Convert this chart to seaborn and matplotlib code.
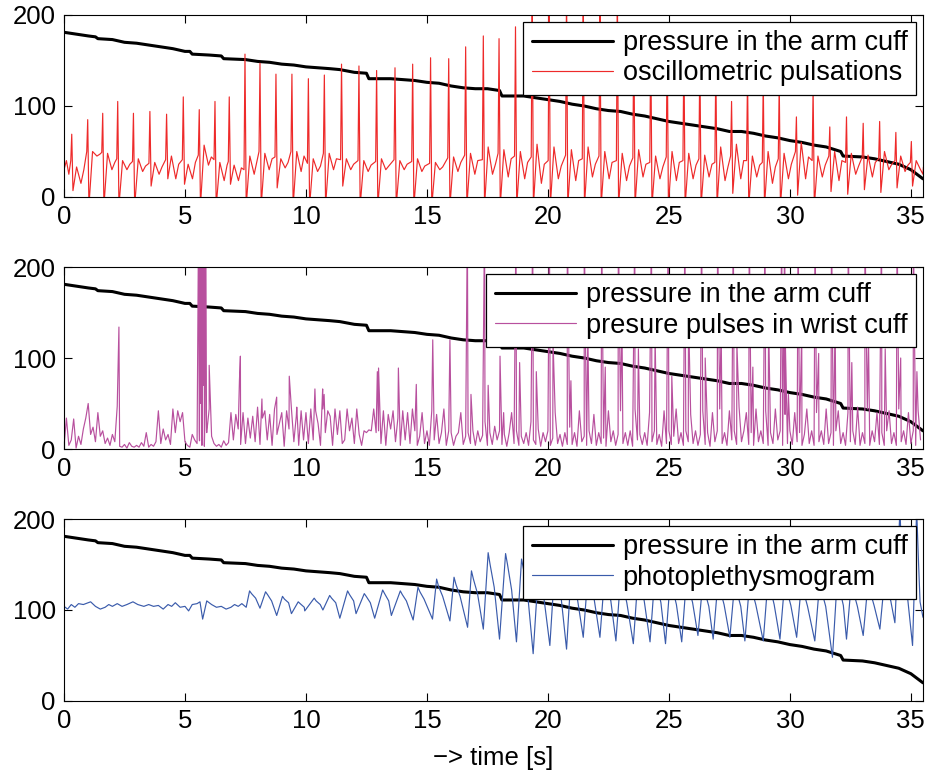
import numpy as np
import pandas as pd
import matplotlib.pyplot as plt
import seaborn as sns

# pressure in the arm cuff (same trace in all three panels)
cuff_t = [0.0, 0.5, 1.0, 1.3, 1.4, 2.0, 2.5, 3.0, 3.5, 4.0, 4.5, 5.0, 5.2, 5.3, 6.0, 6.5, 6.6,
          7.5, 8.0, 8.5, 9.0, 9.5, 10.0, 10.5, 11.0, 11.4, 12.0, 12.5, 12.6, 13.5, 14.0, 14.5,
          15.0, 15.5, 16.0, 16.5, 17.0, 17.5, 18.0, 18.1, 19.0, 19.5, 20.0, 20.5, 21.0, 21.5,
          22.0, 22.5, 23.0, 23.5, 24.0, 24.5, 25.0, 25.5, 26.0, 26.5, 27.0, 27.5, 28.0, 28.5,
          29.0, 29.5, 30.0, 30.5, 31.0, 31.5, 32.1, 32.2, 33.0, 33.5, 34.0, 34.5, 35.0, 35.5]
cuff_p = [181, 179, 177, 176, 174, 173, 170, 169, 167, 165, 163, 160, 160, 157, 156, 155, 152,
          151, 149, 148, 146, 145, 143, 142, 141, 140, 137, 136, 130, 130, 129, 128,
          126, 125, 122, 120, 119, 119, 117, 111, 111, 109, 107, 105, 102, 100,
          97, 95, 94, 91, 89, 86, 83, 81, 79, 77, 75, 72, 72, 70,
          67, 65, 62, 60, 57, 55, 50, 45, 44, 42, 39, 36, 30, 20]

# oscillometric pulsations, one entry per heart beat
osc_t = [0.32, 0.98, 1.60, 2.22, 2.87, 3.55, 4.24, 4.93, 5.59, 6.24, 6.83, 7.48, 8.10,
         8.76, 9.42, 10.10, 10.76, 11.47, 12.19, 12.92, 13.68, 14.41, 15.15, 15.90, 16.60,
         17.33, 17.98, 18.66, 19.35, 20.05, 20.77, 21.46, 22.15, 22.87, 23.55, 24.25, 24.93,
         25.62, 26.28, 26.94, 27.59, 28.25, 28.90, 29.56, 30.27, 30.96, 31.65, 32.34, 33.03,
         33.71, 34.38, 35.02]
osc_peak = [69, 85, 92, 105, 92, 94, 91, 110, 96, 105, 110, 157, 147, 135, 135, 130, 134,
            146, 144, 139, 142, 146, 153, 152, 165, 177, 174, 187, 230, 230, 230, 230, 230,
            230, 185, 180, 172, 165, 158, 148, 105, 135, 130, 126, 88, 120, 77, 88, 81, 83,
            71, 61]
osc_pre = [40, 50, 49, 42, 39, 37, 41, 41, 46, 41, 39, 30, 50, 44, 50, 37, 48, 41, 40, 39,
           41, 39, 37, 43, 46, 41, 48, 45, 44, 40, 46, 42, 45, 40, 43, 38, 44, 40, 42, 38,
           45, 40, 38, 42, 50, 40, 45, 38, 44, 42, 40, 38]
osc_trough = [7, -10, -10, -10, -10, 12, 20, 14, -10, -10, 14, -10, -10, 10, -10, -10, -10,
              12, -10, -10, -10, -10, -10, -10, -10, -10, -10, -10, -10, -10, -10, -10, -10,
              -10, -10, -10, -10, -10, -10, -10, 4, -10, -10, -10, 2, -10, 6, 3, 8, 5, 10, 12]
osc_rebound = [33, 50, 48, 40, 42, 38, 45, 36, 57, 38, 35, 45, 48, 42, 50, 42, 48, 42, 40,
               42, 40, 42, 38, 44, 48, 55, 52, 50, 58, 55, 52, 55, 50, 48, 52, 45, 50, 48,
               46, 55, 58, 45, 50, 48, 60, 45, 50, 48, 46, 50, 45, 40]
osc_mid = [15, 45, 30, 30, 28, 25, 20, 20, 35, 18, 18, 25, 30, 32, 28, 28, 30, 30, 28, 30,
           30, 28, 30, 28, 25, 25, 22, 20, 15, 20, 18, 22, 20, 18, 22, 20, 18, 20, 22, 18,
           20, 22, 15, 20, 20, 22, 18, 25, 22, 30, 28, 30]
osc_bump = [30, 47, 38, 36, 34, 33, 36, 38, 44, 35, 32, 40, 42, 38, 45, 34, 42, 36, 35, 34,
            36, 34, 33, 38, 40, 36, 42, 38, 36, 34, 40, 36, 38, 34, 36, 33, 38, 35, 36, 33,
            40, 35, 33, 36, 44, 35, 40, 34, 38, 36, 35, 33]

# wrist cuff: background noise, 10 samples per second
wrist_noise = [
    [2, 34, 4, 10, 33, 1, 14, 5, 22, 34], [50, 16, 24, 8, 40, 14, 20, 6, 12, 4],
    [16, 8, 47, 3, 2, 5, 1, 7, 3, 2], [4, 2, 7, 3, 18, 2, 5, 3, 8, 42],
    [6, 22, 10, 16, 5, 44, 18, 42, 30, 40], [8, 4, 2, 16, 10, 6, 9, 4, 3, 18],
    [44, 14, 6, 3, 5, 2, 9, 4, 7, 40], [10, 38, 22, 5, 40, 6, 34, 12, 36, 8],
    [46, 5, 34, 42, 10, 38, 4, 44, 16, 28], [40, 3, 42, 22, 44, 8, 36, 4, 42, 10],
    [40, 6, 44, 10, 42, 28, 4, 44, 18, 42], [36, 4, 44, 16, 42, 6, 10, 44, 20, 34],
    [6, 44, 16, 4, 20, 18, 21, 20, 44, 18], [20, 6, 42, 4, 38, 22, 42, 8, 34, 4],
    [42, 10, 40, 6, 44, 20, 4, 14, 40, 6], [20, 4, 42, 10, 38, 6, 18, 44, 4, 20],
    [18, 4, 14, 18, 40, 5, 14, 18, 6, 20], [4, 20, 8, 15, 30, 4, 18, 5, 25, 10],
    [20, 5, 16, 3, 18, 40, 6, 20, 4, 14], [6, 18, 4, 30, 10, 5, 22, 3, 18, 8],
    [20, 4, 12, 40, 6, 16, 3, 18, 5, 24], [5, 18, 3, 42, 8, 14, 4, 20, 6, 38],
    [4, 18, 6, 12, 3, 42, 8, 20, 4, 16], [42, 6, 18, 4, 20, 3, 44, 10, 16, 5],
    [18, 4, 40, 8, 20, 5, 16, 3, 42, 6], [20, 5, 14, 44, 6, 18, 4, 20, 8, 38],
    [6, 20, 4, 16, 42, 5, 18, 3, 40, 8], [20, 44, 6, 18, 4, 42, 10, 20, 5, 46],
    [8, 20, 40, 5, 18, 4, 44, 8, 20, 6], [42, 4, 18, 6, 44, 10, 20, 4, 38, 6],
    [20, 5, 40, 8, 18, 4, 16, 44, 6, 20], [4, 40, 8, 20, 5, 44, 6, 18, 4, 20],
    [42, 6, 18, 4, 40, 8, 20, 5, 46, 4], [18, 6, 44, 4, 20, 8, 40, 5, 18, 4],
    [20, 42, 6, 18, 4, 44, 8, 20, 5, 40], [6, 20, 4, 42, 10]]
# isolated spikes in the wrist signal
spike_t = [2.27, 5.56, 5.59, 5.62, 5.65, 5.68, 5.71, 5.74, 5.77, 5.80, 5.83, 5.86, 5.89,
           6.00, 6.04, 7.25, 7.29, 8.18, 8.79, 9.31, 9.62, 10.37, 10.69, 10.75, 12.95,
           13.00, 13.82, 14.56, 15.24, 15.95]
spike_v = [134, 250, 20, 250, 50, 250, 30, 250, 70, 250, 40, 250, 20,
           92, 60, 75, 102, 55, 57, 80, 46, 66, 66, 60, 85,
           89, 89, 71, 120, 120]
# heart beats seen by the wrist cuff (main spike + echo spike)
beat_t = [16.67, 17.38, 18.02, 18.68, 19.37, 20.06, 20.80, 21.50, 22.22, 22.91, 23.59,
          24.28, 24.97, 25.66, 26.35, 27.01, 27.66, 28.32, 28.97, 29.66, 29.79, 30.34,
          31.04, 31.72, 32.41, 33.10, 33.79, 34.43, 35.10]
beat_v = [250, 250, 102, 250, 250, 250, 250, 250, 250, 250, 250, 250, 250, 250, 250, 250,
          250, 250, 250, 250, 250, 250, 250, 250, 250, 250, 250, 250, 250]
echo_v = [60, 70, 40, 95, 85, 120, 75, 130, 90, 140, 110, 125, 80, 150, 100, 135, 115, 90,
          140, 120, 60, 130, 105, 145, 95, 120, 110, 100, 85]

# photoplethysmogram: quiet part before pulses show up
ppg_base_t = [0, 0.15, 0.3, 0.45, 0.6, 0.8, 1.0, 1.1, 1.3, 1.5, 1.7, 1.85, 2.0, 2.2, 2.4,
              2.6, 2.85, 3.05, 3.3, 3.5, 3.7, 3.9, 4.1, 4.3, 4.45, 4.6, 4.8, 5.0, 5.15, 5.3,
              5.5, 5.62, 5.73, 5.9, 6.1, 6.3, 6.5, 6.7, 6.9, 7.05, 7.2, 7.35]
ppg_base_v = [104, 101, 106, 103, 107, 106, 108, 109, 104, 101, 103, 106, 104, 107, 104,
              106, 109, 106, 104, 106, 104, 105, 101, 106, 104, 108, 103, 104, 99, 106,
              107, 109, 90, 110, 106, 103, 104, 101, 103, 106, 104, 107]
# photoplethysmogram pulses
ppg_trough_t = [7.53, 8.10, 8.79, 9.40, 9.95, 10.70, 11.40, 12.07, 12.84, 13.53, 14.43,
                15.23, 15.95, 16.68, 17.33, 18.00, 18.70, 19.39, 20.08, 20.77, 21.46, 22.15,
                22.81, 23.53, 24.22, 24.86, 25.53, 26.20, 26.83, 27.52, 28.14, 28.90, 29.59,
                30.28, 31.03, 31.76, 32.34, 33.03, 33.72, 34.34, 35.07]
ppg_trough_v = [103, 102, 94, 96, 99, 100, 91, 96, 91, 94, 89, 90, 88, 81, 79, 68, 65, 52,
                61, 57, 70, 70, 66, 63, 65, 63, 65, 72, 68, 70, 66, 66, 68, 70, 66, 48, 68,
                72, 79, 86, 61]
ppg_peak_t = [7.67, 8.33, 9.03, 9.68, 10.34, 10.98, 11.72, 12.41, 13.17, 13.90, 14.63,
              15.40, 16.12, 16.84, 17.53, 18.25, 18.91, 19.60, 20.29, 20.97, 21.66, 22.35,
              23.01, 23.73, 24.42, 25.06, 25.73, 26.40, 27.03, 27.72, 28.34, 29.10, 29.79,
              30.48, 31.23, 31.96, 32.54, 33.23, 33.92, 34.55, 35.24]
ppg_peak_v = [121, 120, 115, 109, 113, 116, 121, 118, 122, 121, 125, 134, 136, 143, 163,
              162, 156, 140, 150, 146, 142, 140, 138, 140, 138, 135, 136, 130, 132, 130,
              132, 135, 132, 130, 130, 135, 130, 130, 135, 210, 210]
ppg_round_v = [118, 117, 112, 107, 110, 113, 117, 115, 118, 117, 120, 126, 128, 134, 150,
               150, 145, 130, 138, 135, 132, 130, 128, 130, 128, 125, 126, 121, 123, 121,
               123, 125, 122, 121, 121, 125, 121, 121, 125, 150, 150]
ppg_notch_v = [113, 110, 108, 103, 106, 108, 110, 108, 110, 110, 112, 115, 115, 118, 125,
               122, 118, 110, 115, 112, 112, 110, 108, 110, 108, 106, 108, 104, 106, 104,
               106, 106, 105, 104, 104, 105, 104, 105, 110, 130, 125]
ppg_end_t = [35.38, 35.5]
ppg_end_v = [109, 92]

sns.set_theme(style="ticks", rc={"axes.edgecolor": "black", "xtick.color": "black",
                                 "ytick.color": "black", "text.color": "black",
                                 "axes.labelcolor": "black", "axes.linewidth": 0.8})
plt.rcParams['font.family'] = ['Liberation Sans', 'DejaVu Sans']

# build the traces
cuff = pd.DataFrame({"t": cuff_t, "v": cuff_p})

ot, ov = [0.0, 0.1, 0.2], [30, 40, 25]
for i, tp in enumerate(osc_t):
    ot += [tp - 0.04, tp, tp + 0.05, tp + 0.2, tp + 0.38, tp + 0.5]
    ov += [osc_pre[i], osc_peak[i], osc_trough[i], osc_rebound[i], osc_mid[i], osc_bump[i]]
ot.append(35.5)
ov.append(25)
osc = pd.DataFrame({"t": ot, "v": ov}).sort_values("t", kind="stable")

noise_v = sum(wrist_noise, [])
noise_t = list(np.arange(len(noise_v)) * 0.1)
echo_t = [b + 0.15 for b in beat_t]
wrist = pd.DataFrame({"t": noise_t + spike_t + beat_t + echo_t,
                      "v": noise_v + spike_v + beat_v + echo_v})
wrist = wrist.sort_values("t", kind="stable")

pt, pv = list(ppg_base_t), list(ppg_base_v)
for i in range(len(ppg_peak_t)):
    pt += [ppg_trough_t[i], ppg_peak_t[i], ppg_peak_t[i] + 0.08]
    pv += [ppg_trough_v[i], ppg_peak_v[i], ppg_round_v[i]]
    if ppg_peak_t[i] + 0.25 < ppg_end_t[0]:
        pt.append(ppg_peak_t[i] + 0.25)
        pv.append(ppg_notch_v[i])
pt += ppg_end_t
pv += ppg_end_v
ppg = pd.DataFrame({"t": pt, "v": pv}).sort_values("t", kind="stable")

panels = [(osc, "#ee2a2a", "oscillometric pulsations", 0.74482),
          (wrist, "#b8509e", "presure pulses in wrist cuff", 0.41839),
          (ppg, "#3a5bab", "photoplethysmogram", 0.09197)]

fig = plt.figure(figsize=(9.25, 7.72), dpi=100)
for df, col, lab, bottom in panels:
    ax = fig.add_axes([0.06919, bottom, 0.9286, 0.23575])
    sns.lineplot(data=cuff, x="t", y="v", ax=ax, color="black", lw=2.2,
                 estimator=None, sort=False, label="pressure in the arm cuff")
    sns.lineplot(data=df, x="t", y="v", ax=ax, color=col, lw=0.85,
                 estimator=None, sort=False, label=lab)
    ax.set_xlim(0, 35.5)
    ax.set_ylim(0, 200)
    ax.set_xticks(range(0, 36, 5))
    ax.set_yticks([0, 100, 200])
    ax.tick_params(direction="in", top=True, right=True, length=6, width=0.8,
                   labelsize=18.5)
    ax.tick_params(axis="y", pad=6)
    ax.tick_params(axis="x", pad=6)
    ax.set_xlabel("")
    ax.set_ylabel("")
    leg = ax.legend(loc="upper right", fontsize=19.5, frameon=True, fancybox=False,
                    edgecolor="black", framealpha=1, handlelength=3.0,
                    handletextpad=0.35, borderpad=0.32, labelspacing=0.15,
                    borderaxespad=0.25)
    leg.get_frame().set_linewidth(0.9)

ax.set_xlabel("\u2212> time [s]", fontsize=18.5, labelpad=9)

fig.savefig("out.png", dpi=100)
